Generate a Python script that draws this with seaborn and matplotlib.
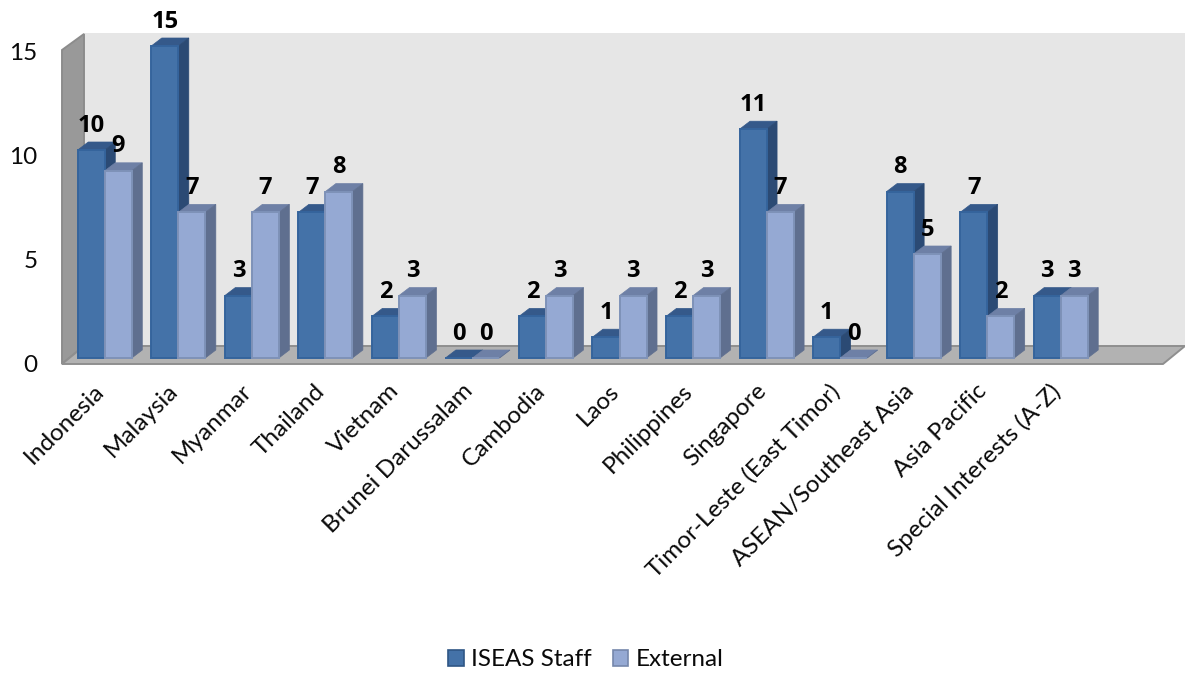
import matplotlib
matplotlib.use("Agg")
import matplotlib.pyplot as plt
from matplotlib.patches import Polygon, Patch
from matplotlib.transforms import ScaledTranslation
import pandas as pd
import seaborn as sns

categories = ["Indonesia", "Malaysia", "Myanmar", "Thailand", "Vietnam", "Brunei Darussalam",
              "Cambodia", "Laos", "Philippines", "Singapore", "Timor-Leste (East Timor)",
              "ASEAN/Southeast Asia", "Asia Pacific", "Special Interests (A-Z)"]
staff = [10, 15, 3, 7, 2, 0, 2, 1, 2, 11, 1, 8, 7, 3]
external = [9, 7, 7, 8, 3, 0, 3, 3, 3, 7, 0, 5, 2, 3]
series_names = ["ISEAS Staff", "External"]

W, H = 1185, 673
sns.set_theme(style="white")
plt.rcParams["font.family"] = ["Lato", "DejaVu Sans"]

fig = plt.figure(figsize=(W / 100, H / 100), dpi=100)
L, R, B, T = 68, 1171, 358, 46
ax = fig.add_axes([L / W, 1 - B / H, (R - L) / W, (B - T) / H])
ax.patch.set_visible(False)

df = pd.DataFrame({
    "cat": categories * 2,
    "series": [series_names[0]] * len(categories) + [series_names[1]] * len(categories),
    "val": staff + external,
})
sns.barplot(data=df, x="cat", y="val", hue="series", order=categories,
            palette=["#4472A8", "#95A9D3"], width=0.735, gap=0, saturation=1,
            legend=False, ax=ax)
ax.set_xlim(-0.5, 14.5)
ax.set_ylim(0, 15)
ax.set_xlabel("")
ax.set_ylabel("")
sns.despine(ax=ax, left=True, bottom=True, top=True, right=True)

ppx = 15 / (R - L)      # data units in x per pixel
ppy = 15 / (B - T)      # data units in y per pixel
def P(px, py):
    """pixel position in the reference -> data coordinates"""
    return ((px - L) * ppx - 0.5, (B - py) * ppy)

# Chart box: back wall, side wall, floor
walls = [
    ([(84, 34), (1185, 34), (1185, 346), (84, 346)], "#E6E6E6", "#E6E6E6"),
    ([(62, 50), (84, 34), (84, 346), (62, 364)], "#999999", "#8C8C8C"),
    ([(62, 364), (84, 346), (1185, 346), (1163, 364)], "#B2B2B2", "#8F8F8F"),
]
for pts, fc, ec in walls:
    ax.add_patch(Polygon([P(*p) for p in pts], closed=True, fc=fc, ec=ec, lw=1.4,
                         clip_on=False, zorder=1))

# Depth faces derived from the bars
DX, DY = 10.5 * ppx, 8 * ppy
styles = [("#35598A", "#2B4A74", "#35649C", 2.0),
          ("#6E80A6", "#5F6F8F", "#7E92B8", 2.2)]
for cont, (top_c, side_c, edge_c, z) in zip(ax.containers, styles):
    for bar in cont:
        x0, w, h = bar.get_x(), bar.get_width(), bar.get_height()
        x1 = x0 + w
        ax.add_patch(Polygon([(x0, h), (x0 + DX, h + DY), (x1 + DX, h + DY), (x1, h)],
                             closed=True, fc=top_c, ec=top_c, lw=0.5, clip_on=False, zorder=z))
        ax.add_patch(Polygon([(x1, 0), (x1 + DX, DY), (x1 + DX, h + DY), (x1, h)],
                             closed=True, fc=side_c, ec=side_c, lw=0.5, clip_on=False, zorder=z))
        bar.set_edgecolor(edge_c)
        bar.set_linewidth(1.4)
        bar.set_zorder(z + 0.1)
        bar.set_clip_on(False)
    ax.bar_label(cont, fmt="%g", padding=9, fontsize=17, fontweight="bold",
                 family="Open Sans", color="black", zorder=6)

# Axes ticks
ax.set_yticks([0, 5, 10, 15])
ax.tick_params(axis="y", length=0, pad=22, labelsize=17.5, labelcolor="#0A0A0A")
off = ScaledTranslation(0, -6 / 100, fig.dpi_scale_trans)
for lab in ax.get_yticklabels():
    lab.set_transform(lab.get_transform() + off)
ax.set_xticks(range(len(categories)))
ax.set_xticklabels(categories, rotation=45, ha="right", va="top", rotation_mode="anchor",
                   fontsize=17.5, color="#0A0A0A")
ax.tick_params(axis="x", length=0, pad=16)
xoff = ScaledTranslation(-11 / 100, 0, fig.dpi_scale_trans)
for lab in ax.get_xticklabels():
    lab.set_transform(lab.get_transform() + xoff)

handles = [Patch(fc="#4472A8", ec="#2F5685", lw=1.2, label=series_names[0]),
           Patch(fc="#95A9D3", ec="#7587AB", lw=1.2, label=series_names[1])]
fig.legend(handles=handles, loc="center", bbox_to_anchor=(586 / W, 1 - 660 / H), ncol=2,
           frameon=False, fontsize=17.5, handlelength=0.62, handleheight=0.62,
           handletextpad=0.3, columnspacing=0.9, labelcolor="#0A0A0A")

fig.savefig("out.png", dpi=100)
